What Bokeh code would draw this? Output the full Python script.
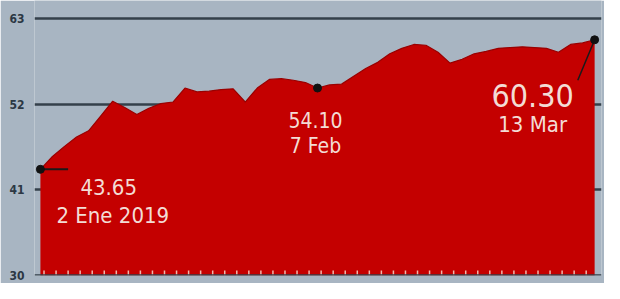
from bokeh.plotting import figure
from bokeh.models import FixedTicker, ColumnDataSource, Range1d, Span
from bokeh.core.properties import value
from bokeh.embed import file_html
from bokeh.resources import INLINE

# ---- data ----
day_index = list(range(47))
price = [43.65, 45.3, 46.6, 47.8, 48.6, 50.5, 52.4, 51.6, 50.7, 51.5,
         52.1, 52.3, 54.1, 53.6, 53.7, 53.9, 54.0, 52.3, 54.1, 55.2,
         55.3, 55.1, 54.8, 54.10, 54.5, 54.6, 55.6, 56.6, 57.4, 58.5,
         59.2, 59.7, 59.6, 58.7, 57.3, 57.8, 58.5, 58.8, 59.2, 59.3,
         59.4, 59.3, 59.2, 58.7, 59.7, 59.9, 60.30]
y_ticks = [30, 41, 52, 63]
ann_index = [0, 23, 46]
ann_value = ["43.65", "54.10", "60.30"]
ann_date = ["2 Ene 2019", "7 Feb", "13 Mar"]

BG = "#a8b5c2"
RED = "#c40000"
TXT = "#f3dcd5"
FONT = "'DejaVu Sans Condensed', 'Liberation Sans Narrow', Roboto, sans-serif"

p = figure(width=604, height=283, output_backend="svg", toolbar_location=None,
           x_range=Range1d(-0.49, 46.57), y_range=Range1d(30, 65.35),
           min_border_left=34, min_border_right=3, min_border_top=0,
           min_border_bottom=8)
p.background_fill_color = BG
p.border_fill_color = BG
p.outline_line_color = None
p.xaxis.visible = False

src = ColumnDataSource(dict(x=day_index, y=price))
p.varea(x="x", y1=30, y2="y", source=src, fill_color=RED)
p.line(x="x", y="y", source=src, line_color="#9a0000", line_width=1.2)

# grid
p.xgrid.visible = False
p.ygrid.ticker = FixedTicker(ticks=y_ticks)
p.ygrid.grid_line_color = "#34404b"
p.ygrid.grid_line_width = 2.5
p.ygrid.level = "underlay"

# y axis
p.yaxis.ticker = FixedTicker(ticks=y_ticks)
p.yaxis.axis_line_color = None
p.yaxis.major_tick_line_color = None
p.yaxis.minor_tick_line_color = None
p.yaxis.major_tick_in = 0
p.yaxis.major_tick_out = 0
p.yaxis.minor_tick_in = 0
p.yaxis.minor_tick_out = 0
p.yaxis.major_label_text_font = FONT
p.yaxis.major_label_text_font_style = "bold"
p.yaxis.major_label_text_font_size = "12px"
p.yaxis.major_label_text_color = "#2c3844"
p.yaxis.major_label_standoff = 10

# base line and small inward ticks along the bottom
tick_pos = [i + 0.3 for i in range(46)]
p.rect(x=tick_pos, y=30, width=1.5, height=10, width_units="screen",
       height_units="screen", fill_color="#f2b8ae", line_color=None)
p.add_layout(Span(location=30, dimension="width", line_color="#34404b",
                  line_width=2.5))

# annotation points
ax = [day_index[i] for i in ann_index]
ay = [price[i] for i in ann_index]

# leader lines
p.segment(x0=[ax[0]], y0=[ay[0]], x1=[ax[0] + 2.3], y1=[ay[0]],
          line_color="#1a1a1a", line_width=2)
p.segment(x0=[ax[2]], y0=[ay[2]], x1=[ax[2] - 1.4], y1=[ay[2] - 5.2],
          line_color="#1a1a1a", line_width=1.5)
p.scatter(x=ax, y=ay, size=8, color="#111111")

def lab(i, txt, size, align, dx, dy):
    p.text(x=[ax[i]], y=[ay[i]], text=[txt], text_font=value(FONT),
           text_font_size=size, text_color=TXT, text_align=align,
           text_baseline="alphabetic", x_offset=dx, y_offset=dy)

lab(0, ann_value[0], "22px", "left", 40, 18)
lab(0, ann_date[0], "22px", "left", 16, 46)
lab(1, ann_value[1], "21px", "center", -2, 32)
lab(1, ann_date[1], "21px", "center", -2, 58)
lab(2, ann_value[2], "32px", "center", -62, 56)
lab(2, ann_date[2], "22px", "center", -62, 85)

open("out.html", "w").write(file_html(p, INLINE))
